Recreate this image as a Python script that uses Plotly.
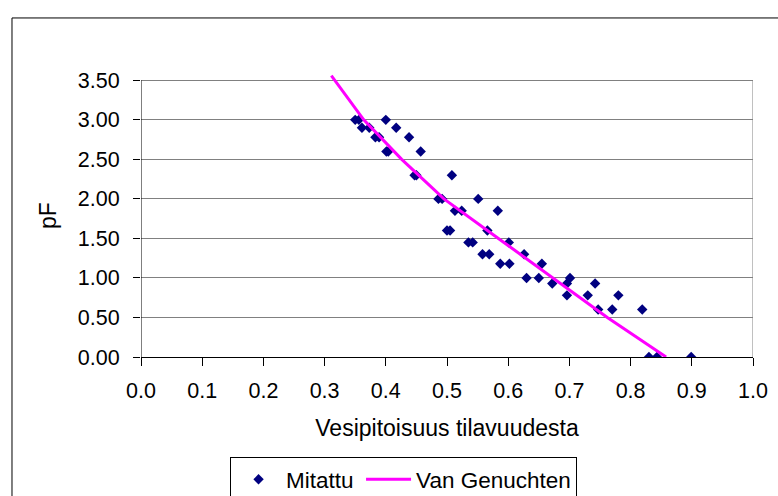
import plotly.graph_objects as go

# Measured water retention: volumetric water content vs pF (three replicates per suction level)
pf_measured = [
    3.00, 3.00, 3.00,
    2.90, 2.90, 2.90,
    2.78, 2.78, 2.78,
    2.60, 2.60, 2.60,
    2.30, 2.30, 2.30,
    2.00, 2.00, 2.00,
    1.85, 1.85, 1.85,
    1.60, 1.60, 1.60,
    1.45, 1.45, 1.45,
    1.30, 1.30, 1.30,
    1.18, 1.18, 1.18,
    1.00, 1.00, 1.00,
    0.93, 0.93, 0.93,
    0.78, 0.78, 0.78,
    0.60, 0.60, 0.60,
    0.00, 0.00, 0.00,
]
theta_measured = [
    0.350, 0.356, 0.400,
    0.361, 0.373, 0.417,
    0.383, 0.389, 0.438,
    0.401, 0.404, 0.457,
    0.447, 0.450, 0.508,
    0.486, 0.492, 0.551,
    0.513, 0.524, 0.583,
    0.500, 0.505, 0.566,
    0.535, 0.542, 0.601,
    0.558, 0.569, 0.626,
    0.587, 0.602, 0.655,
    0.630, 0.650, 0.701,
    0.672, 0.696, 0.742,
    0.696, 0.730, 0.780,
    0.747, 0.770, 0.819,
    0.830, 0.843, 0.899,
]

# Fitted Van Genuchten retention curve
theta_fit = [0.311, 0.364, 0.426, 0.495, 0.584, 0.672, 0.762, 0.858]
pf_fit = [3.56, 3.00, 2.50, 2.00, 1.50, 1.00, 0.50, 0.00]

x_ticks = [0.0, 0.1, 0.2, 0.3, 0.4, 0.5, 0.6, 0.7, 0.8, 0.9, 1.0]
y_ticks = [0.0, 0.5, 1.0, 1.5, 2.0, 2.5, 3.0, 3.5]

FONT = "Liberation Sans, Arial, sans-serif"
FS = 21.5

fig = go.Figure()
fig.add_trace(go.Scatter(
    x=theta_measured, y=pf_measured, mode="markers", name="Mitattu",
    marker=dict(symbol="diamond", size=8, color="#000080",
                line=dict(width=0)),
    legendwidth=70,
))
fig.add_trace(go.Scatter(
    x=theta_fit, y=pf_fit, mode="lines", name="Van Genuchten",
    line=dict(color="#FF00FF", width=3),
))

shapes = [
    # outer chart frame
    dict(type="rect", xref="paper", yref="paper",
         x0=-0.2108, x1=1.2, y0=-0.7, y1=1.198,
         line=dict(color="black", width=1), layer="below"),
    # plot-area right edge
    dict(type="line", xref="x", yref="y", x0=1.0, x1=1.0, y0=0, y1=3.5,
         line=dict(color="#808080", width=1), layer="below"),
    # value axis line
    dict(type="line", xref="x", yref="y", x0=0.0, x1=0.0, y0=0, y1=3.5,
         line=dict(color="black", width=1), layer="above"),
]

fig.update_layout(
    width=778, height=496,
    margin=dict(l=141, r=25, t=74, b=139, autoexpand=False),
    paper_bgcolor="white", plot_bgcolor="white",
    font=dict(family=FONT, size=FS, color="black"),
    showlegend=True,
    legend=dict(
        orientation="h", x=0.1455, y=-0.354, xanchor="left", yanchor="top",
        bordercolor="black", borderwidth=1, bgcolor="white",
        itemwidth=45,
        font=dict(family=FONT, size=22.5, color="black"),
    ),
    shapes=shapes,
    xaxis=dict(
        range=[0, 1.0], tickvals=x_ticks, tickformat=".1f",
        showgrid=False, zeroline=False,
        showline=True, linecolor="black", linewidth=1,
        ticks="outside", ticklen=8, tickcolor="black",
        ticklabelstandoff=6,
        tickfont=dict(family=FONT, size=FS, color="black"),
        title=dict(text="Vesipitoisuus tilavuudesta", standoff=18,
                   font=dict(family=FONT, size=23, color="black")),
    ),
    yaxis=dict(
        range=[0, 3.58], tickvals=y_ticks, tickformat=".2f",
        showgrid=True, gridcolor="#808080", gridwidth=1, zeroline=False,
        showline=False,
        ticks="outside", ticklen=7, tickcolor="black",
        ticklabelstandoff=9,
        tickfont=dict(family=FONT, size=FS, color="black"),
        title=dict(text="pF", standoff=14,
                   font=dict(family=FONT, size=23, color="black")),
    ),
)

fig.write_html("out.html")
